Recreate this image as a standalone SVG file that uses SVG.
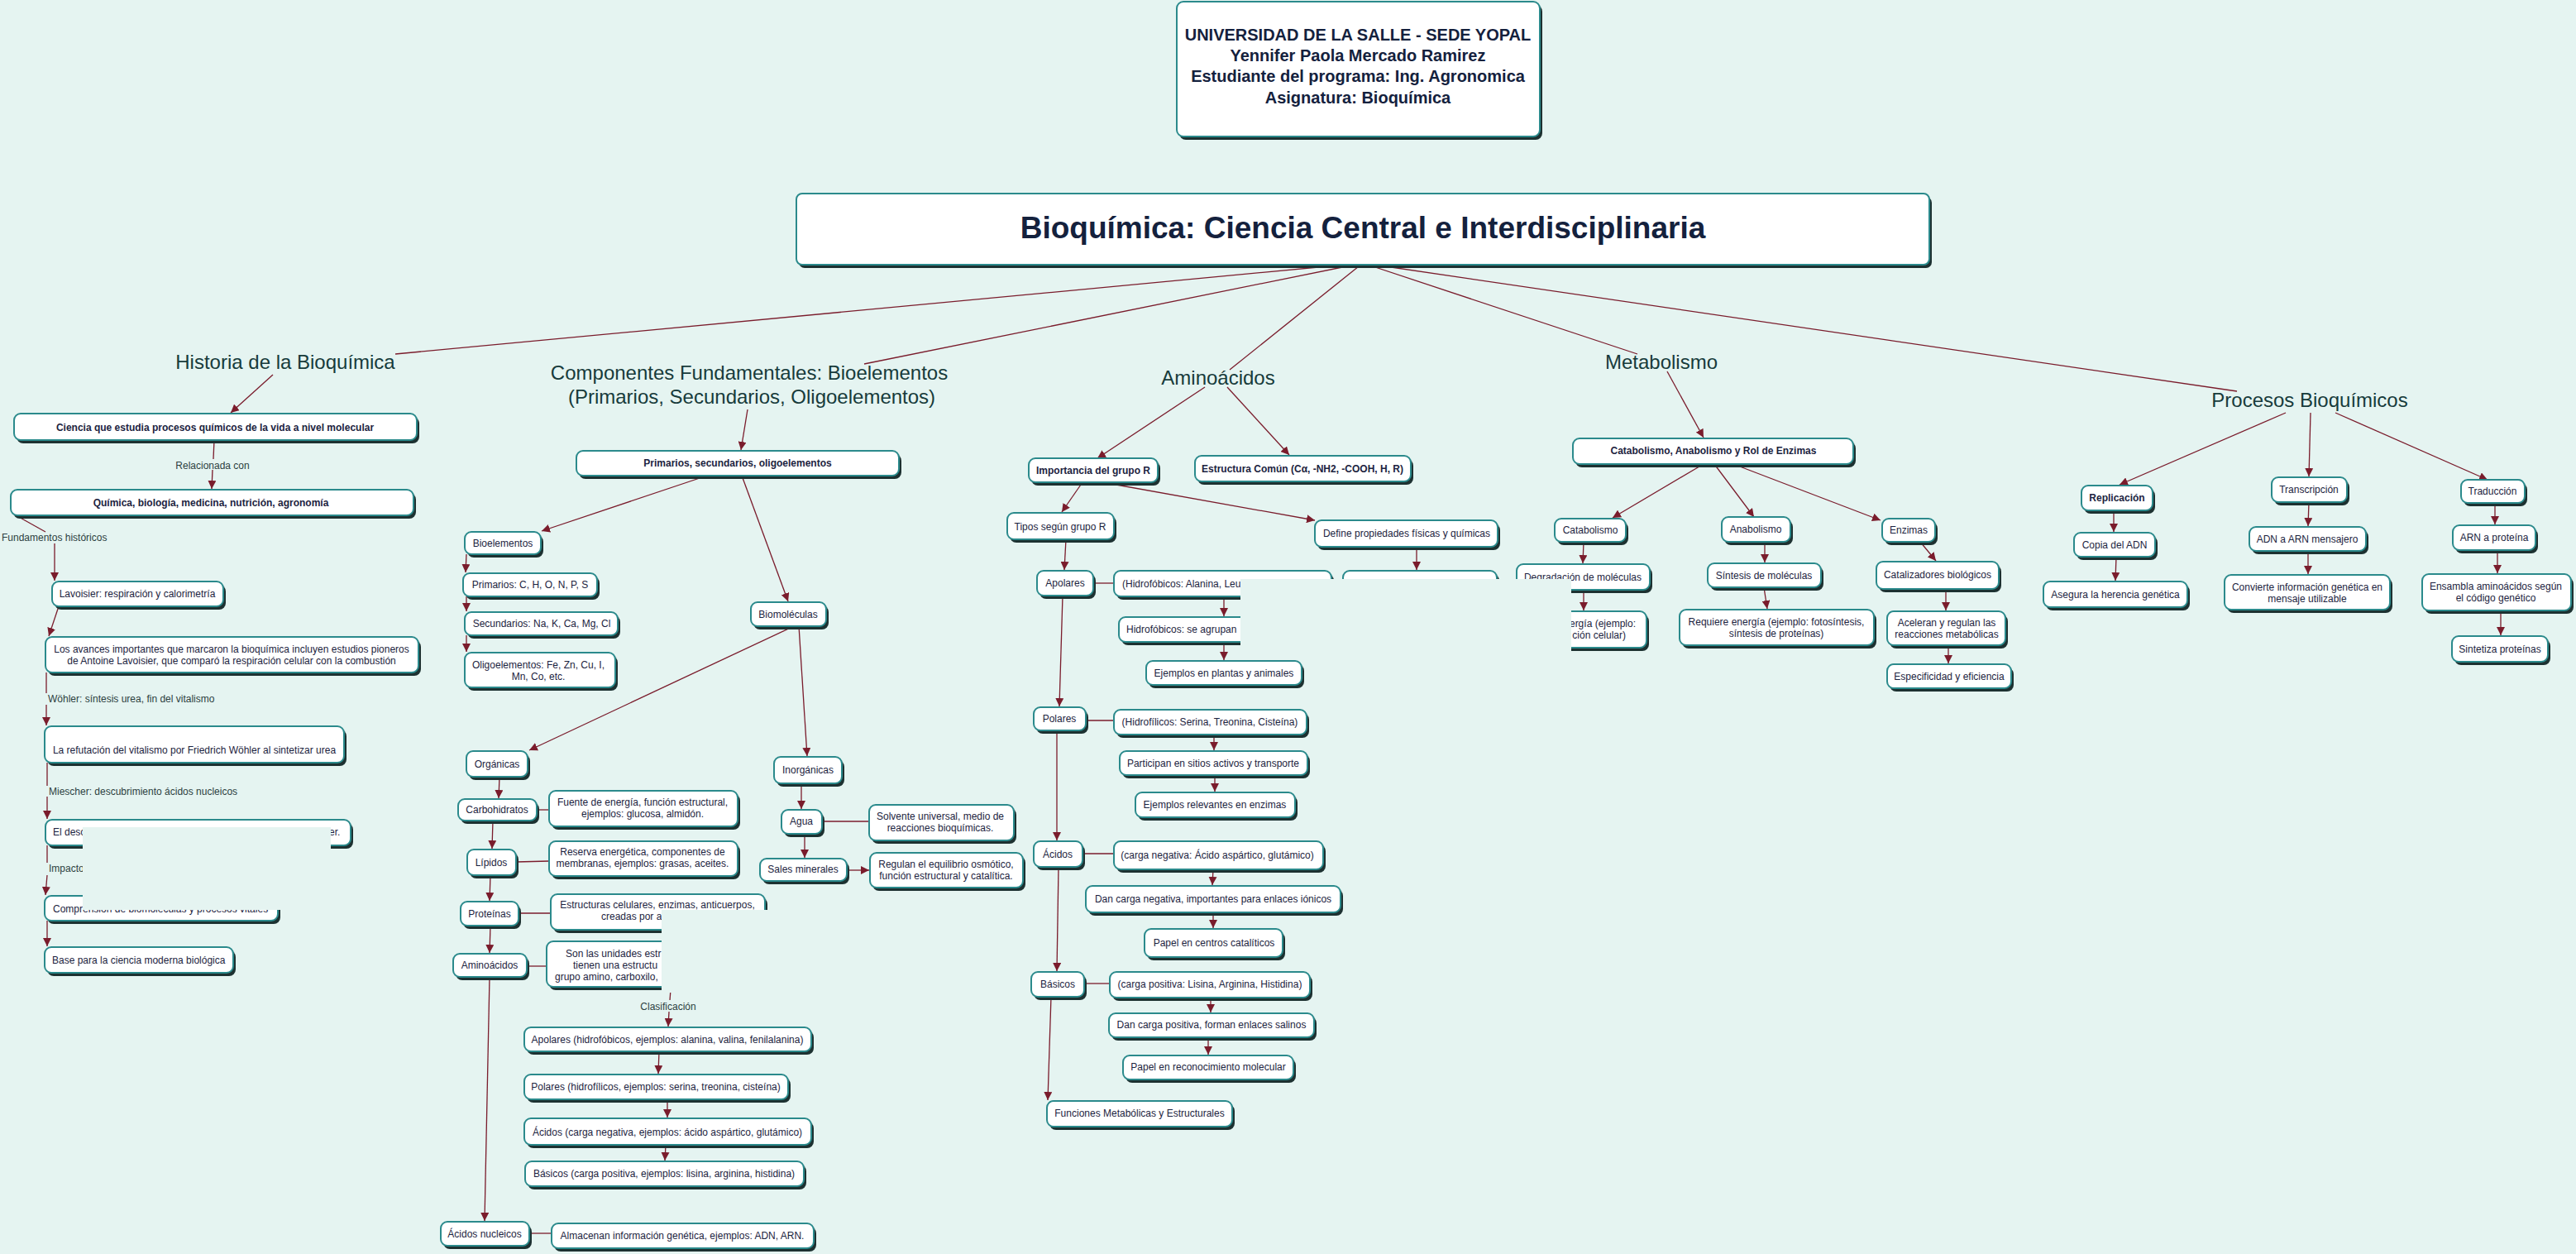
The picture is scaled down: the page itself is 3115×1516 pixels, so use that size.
<svg xmlns="http://www.w3.org/2000/svg" width="3115" height="1516" viewBox="0 0 3115 1516">
<style>
.bg{fill:#e5f4f1}
.sh{fill:#1d3131}
.bx{fill:#fff;stroke:#2b8a8c;stroke-width:2}
.oc{fill:#e5f4f1}
text{font-family:"Liberation Sans",Arial,sans-serif}
.t{font-size:12px;fill:#1c2340;text-anchor:middle}
.s{text-anchor:start}
.e{text-anchor:end}
.b{font-weight:bold}
.hd{font-size:20px;font-weight:bold;fill:#14213d;text-anchor:middle}
.ti{font-size:37px;font-weight:bold;fill:#14213d;text-anchor:middle}
.lb{font-size:24px;fill:#173b3b;text-anchor:middle}
.cl{font-size:12px;fill:#2c4040}
.c{stroke:#7a1c2c;stroke-width:1.3;fill:none}
.a{marker-end:url(#ah)}
</style>
<defs>
<marker id="ah" markerUnits="userSpaceOnUse" viewBox="0 0 10 10" refX="10" refY="5" markerWidth="10" markerHeight="10" orient="auto">
<path d="M0,0 L10,5 L0,10 z" fill="#7a1c2c"/>
</marker>
</defs>
<rect class="bg" x="0" y="0" width="3115" height="1516"/>

<g id="connectors">
<line class="c" x1="1648" y1="318" x2="478" y2="428"/>
<line class="c" x1="1648" y1="318" x2="1045" y2="440"/>
<line class="c" x1="1648" y1="318" x2="1487" y2="447"/>
<line class="c" x1="1648" y1="318" x2="1980" y2="428"/>
<line class="c" x1="1648" y1="318" x2="2705" y2="473"/>
<!-- Historia -->
<line class="c a" x1="330" y1="453" x2="279" y2="499"/>
<line class="c" x1="259" y1="532" x2="258" y2="555"/>
<line class="c a" x1="257" y1="568" x2="256" y2="591"/>
<line class="c" x1="21" y1="624" x2="55" y2="643"/>
<line class="c a" x1="66" y1="657" x2="66" y2="702"/>
<line class="c a" x1="71" y1="733" x2="59" y2="769"/>
<line class="c" x1="56" y1="813" x2="56" y2="838"/>
<line class="c a" x1="56" y1="852" x2="56" y2="877"/>
<line class="c" x1="57" y1="922" x2="57" y2="950"/>
<line class="c a" x1="57" y1="963" x2="57" y2="990"/>
<line class="c" x1="57" y1="1022" x2="57" y2="1043"/>
<line class="c a" x1="57" y1="1058" x2="55" y2="1082"/>
<line class="c a" x1="57" y1="1113" x2="57" y2="1144"/>
<!-- Componentes -->
<line class="c a" x1="904" y1="495" x2="896" y2="544"/>
<line class="c a" x1="855" y1="575" x2="655" y2="642"/>
<line class="c a" x1="897" y1="575" x2="953" y2="727"/>
<line class="c a" x1="564" y1="670" x2="563" y2="692"/>
<line class="c a" x1="564" y1="721" x2="564" y2="739"/>
<line class="c a" x1="564" y1="768" x2="564" y2="788"/>
<line class="c a" x1="960" y1="757" x2="640" y2="907"/>
<line class="c a" x1="966" y1="757" x2="976" y2="914"/>
<line class="c a" x1="604" y1="939" x2="603" y2="965"/>
<line class="c" x1="649" y1="979" x2="664" y2="979"/>
<line class="c a" x1="596" y1="992" x2="595" y2="1026"/>
<line class="c" x1="624" y1="1042" x2="664" y2="1041"/>
<line class="c a" x1="593" y1="1058" x2="592" y2="1089"/>
<line class="c" x1="627" y1="1104" x2="666" y2="1104"/>
<line class="c a" x1="593" y1="1119" x2="592" y2="1152"/>
<line class="c" x1="637" y1="1168" x2="661" y2="1168"/>
<line class="c" x1="811" y1="1196" x2="810" y2="1209"/>
<line class="c a" x1="809" y1="1223" x2="808" y2="1241"/>
<line class="c a" x1="797" y1="1271" x2="796" y2="1298"/>
<line class="c a" x1="807" y1="1329" x2="807" y2="1351"/>
<line class="c a" x1="805" y1="1384" x2="804" y2="1403"/>
<line class="c a" x1="592" y1="1181" x2="586" y2="1476"/>
<line class="c" x1="640" y1="1491" x2="667" y2="1491"/>
<line class="c a" x1="969" y1="947" x2="969" y2="978"/>
<line class="c" x1="994" y1="993" x2="1051" y2="993"/>
<line class="c a" x1="973" y1="1008" x2="973" y2="1037"/>
<line class="c a" x1="1024" y1="1052" x2="1051" y2="1052"/>
<!-- Aminoacidos -->
<line class="c a" x1="1457" y1="468" x2="1327" y2="554"/>
<line class="c a" x1="1484" y1="468" x2="1559" y2="550"/>
<line class="c a" x1="1309" y1="583" x2="1284" y2="619"/>
<line class="c a" x1="1333" y1="583" x2="1590" y2="629"/>
<line class="c a" x1="1713" y1="661" x2="1713" y2="689"/>
<line class="c a" x1="1289" y1="652" x2="1287" y2="689"/>
<line class="c" x1="1322" y1="705" x2="1347" y2="705"/>
<line class="c a" x1="1480" y1="721" x2="1480" y2="745"/>
<line class="c a" x1="1480" y1="776" x2="1480" y2="798"/>
<line class="c a" x1="1285" y1="720" x2="1281" y2="854"/>
<line class="c" x1="1313" y1="871" x2="1347" y2="871"/>
<line class="c a" x1="1468" y1="888" x2="1468" y2="907"/>
<line class="c a" x1="1469" y1="937" x2="1469" y2="957"/>
<line class="c a" x1="1278" y1="883" x2="1278" y2="1016"/>
<line class="c" x1="1309" y1="1032" x2="1347" y2="1032"/>
<line class="c a" x1="1467" y1="1051" x2="1466" y2="1070"/>
<line class="c a" x1="1467" y1="1103" x2="1467" y2="1122"/>
<line class="c a" x1="1280" y1="1048" x2="1278" y2="1174"/>
<line class="c" x1="1311" y1="1189" x2="1342" y2="1189"/>
<line class="c a" x1="1464" y1="1206" x2="1464" y2="1224"/>
<line class="c a" x1="1461" y1="1254" x2="1461" y2="1275"/>
<line class="c a" x1="1271" y1="1205" x2="1267" y2="1330"/>
<!-- Metabolismo -->
<line class="c a" x1="2016" y1="449" x2="2060" y2="529"/>
<line class="c a" x1="2060" y1="561" x2="1950" y2="626"/>
<line class="c a" x1="2073" y1="561" x2="2121" y2="625"/>
<line class="c a" x1="2096" y1="561" x2="2274" y2="629"/>
<line class="c a" x1="1915" y1="655" x2="1914" y2="681"/>
<line class="c a" x1="1915" y1="713" x2="1915" y2="738"/>
<line class="c a" x1="2134" y1="655" x2="2134" y2="680"/>
<line class="c a" x1="2133" y1="710" x2="2137" y2="736"/>
<line class="c a" x1="2322" y1="655" x2="2341" y2="678"/>
<line class="c a" x1="2353" y1="712" x2="2353" y2="738"/>
<line class="c a" x1="2356" y1="780" x2="2356" y2="802"/>
<!-- Procesos -->
<line class="c a" x1="2764" y1="499" x2="2563" y2="586"/>
<line class="c a" x1="2794" y1="499" x2="2792" y2="576"/>
<line class="c a" x1="2824" y1="499" x2="3008" y2="580"/>
<line class="c a" x1="2556" y1="617" x2="2556" y2="643"/>
<line class="c a" x1="2559" y1="673" x2="2558" y2="702"/>
<line class="c a" x1="2792" y1="607" x2="2791" y2="636"/>
<line class="c a" x1="2791" y1="666" x2="2791" y2="694"/>
<line class="c a" x1="3017" y1="608" x2="3017" y2="634"/>
<line class="c a" x1="3020" y1="665" x2="3020" y2="693"/>
<line class="c a" x1="3024" y1="738" x2="3024" y2="768"/>
<!-- connector labels -->
<text class="cl" x="257" y="567" text-anchor="middle">Relacionada con</text>
<text class="cl" x="2" y="654">Fundamentos históricos</text>
<text class="cl" x="58" y="849">Wöhler: síntesis urea, fin del vitalismo</text>
<text class="cl" x="59" y="961">Miescher: descubrimiento ácidos nucleicos</text>
<text class="cl" x="59" y="1054">Impacto</text>
<text class="cl" x="808" y="1221" text-anchor="middle">Clasificación</text>
</g>

<g id="header"><rect class="sh" x="1426" y="6" width="439" height="163" rx="8"/><rect class="bx" x="1423" y="2" width="439" height="163" rx="8"/>
<text class="hd" x="1642" y="49">UNIVERSIDAD DE LA SALLE - SEDE YOPAL</text>
<text class="hd" x="1642" y="74">Yennifer Paola Mercado Ramirez</text>
<text class="hd" x="1642" y="99">Estudiante del programa: Ing. Agronomica</text>
<text class="hd" x="1642" y="125">Asignatura: Bioquímica</text></g>
<g id="title"><rect class="sh" x="966" y="238" width="1370" height="86" rx="7"/><rect class="bx" x="963" y="234" width="1370" height="86" rx="7"/>
<text class="ti" x="1648" y="288">Bioquímica: Ciencia Central e Interdisciplinaria</text></g>

<g id="lbl-historia"><text class="lb" x="345" y="446">Historia de la Bioquímica</text></g>
<g id="lbl-componentes"><text class="lb" x="906" y="459">Componentes Fundamentales: Bioelementos</text><text class="lb" x="909" y="488">(Primarios, Secundarios, Oligoelementos)</text></g>
<g id="lbl-aminoacidos"><text class="lb" x="1473" y="465">Aminoácidos</text></g>
<g id="lbl-metabolismo"><text class="lb" x="2009" y="446">Metabolismo</text></g>
<g id="lbl-procesos"><text class="lb" x="2793" y="492">Procesos Bioquímicos</text></g>

<!-- Historia nodes -->
<g id="h1"><rect class="sh" x="20" y="504" width="487" height="32" rx="8"/><rect class="bx" x="17" y="500" width="487" height="32" rx="8"/><text class="t b" x="260" y="521">Ciencia que estudia procesos químicos de la vida a nivel molecular</text></g>
<g id="h2"><rect class="sh" x="16" y="596" width="487" height="31" rx="8"/><rect class="bx" x="13" y="592" width="487" height="31" rx="8"/><text class="t b" x="255" y="612">Química, biología, medicina, nutrición, agronomía</text></g>
<g id="h3"><rect class="sh" x="66" y="707" width="207" height="30" rx="8"/><rect class="bx" x="63" y="703" width="207" height="30" rx="8"/><text class="t" x="166" y="722">Lavoisier: respiración y calorimetría</text></g>
<g id="h4"><rect class="sh" x="58" y="774" width="451" height="43" rx="8"/><rect class="bx" x="55" y="770" width="451" height="43" rx="8"/><text class="t" x="280" y="789">Los avances importantes que marcaron la bioquímica incluyen estudios pioneros</text><text class="t" x="280" y="803">de Antoine Lavoisier, que comparó la respiración celular con la combustión</text></g>
<g id="h5"><rect class="sh" x="57" y="882" width="362" height="44" rx="8"/><rect class="bx" x="54" y="878" width="362" height="44" rx="8"/><text class="t" x="235" y="911">La refutación del vitalismo por Friedrich Wöhler al sintetizar urea</text></g>
<g id="h6"><rect class="sh" x="58" y="995" width="369" height="31" rx="8"/><rect class="bx" x="55" y="991" width="369" height="31" rx="8"/><text class="t s" x="64" y="1010">El desc</text><text class="t s" x="398" y="1010">er.</text></g>
<g id="h7"><rect class="sh" x="57" y="1087" width="282" height="30" rx="8"/><rect class="bx" x="54" y="1083" width="282" height="30" rx="8"/><text class="t s" x="64" y="1103">Comprensión de biomoléculas y procesos vitales</text></g>
<g id="h8"><rect class="sh" x="57" y="1149" width="228" height="31" rx="8"/><rect class="bx" x="54" y="1145" width="228" height="31" rx="8"/><text class="t s" x="63" y="1165">Base para la ciencia moderna biológica</text></g>

<!-- Componentes nodes -->
<g id="c1"><rect class="sh" x="700" y="549" width="390" height="30" rx="8"/><rect class="bx" x="697" y="545" width="390" height="30" rx="8"/><text class="t b" x="892" y="564">Primarios, secundarios, oligoelementos</text></g>
<g id="c2"><rect class="sh" x="565" y="647" width="92" height="27" rx="8"/><rect class="bx" x="562" y="643" width="92" height="27" rx="8"/><text class="t" x="608" y="661">Bioelementos</text></g>
<g id="c3"><rect class="sh" x="563" y="697" width="162" height="28" rx="8"/><rect class="bx" x="560" y="693" width="162" height="28" rx="8"/><text class="t" x="641" y="711">Primarios: C, H, O, N, P, S</text></g>
<g id="c4"><rect class="sh" x="565" y="744" width="185" height="28" rx="8"/><rect class="bx" x="562" y="740" width="185" height="28" rx="8"/><text class="t" x="655" y="758">Secundarios: Na, K, Ca, Mg, Cl</text></g>
<g id="c5"><rect class="sh" x="565" y="793" width="182" height="42" rx="8"/><rect class="bx" x="562" y="789" width="182" height="42" rx="8"/><text class="t" x="651" y="808">Oligoelementos: Fe, Zn, Cu, I,</text><text class="t" x="651" y="822">Mn, Co, etc.</text></g>
<g id="c6"><rect class="sh" x="911" y="732" width="91" height="29" rx="8"/><rect class="bx" x="908" y="728" width="91" height="29" rx="8"/><text class="t" x="953" y="747">Biomoléculas</text></g>
<g id="c7"><rect class="sh" x="567" y="912" width="74" height="31" rx="8"/><rect class="bx" x="564" y="908" width="74" height="31" rx="8"/><text class="t" x="601" y="928">Orgánicas</text></g>
<g id="c8"><rect class="sh" x="557" y="970" width="95" height="26" rx="8"/><rect class="bx" x="554" y="966" width="95" height="26" rx="8"/><text class="t" x="601" y="983">Carbohidratos</text></g>
<g id="c9"><rect class="sh" x="667" y="960" width="228" height="43" rx="8"/><rect class="bx" x="664" y="956" width="228" height="43" rx="8"/><text class="t" x="777" y="974">Fuente de energía, función estructural,</text><text class="t" x="777" y="988">ejemplos: glucosa, almidón.</text></g>
<g id="c10"><rect class="sh" x="568" y="1031" width="59" height="31" rx="8"/><rect class="bx" x="565" y="1027" width="59" height="31" rx="8"/><text class="t" x="594" y="1047">Lípidos</text></g>
<g id="c11"><rect class="sh" x="667" y="1021" width="228" height="42" rx="8"/><rect class="bx" x="664" y="1017" width="228" height="42" rx="8"/><text class="t" x="777" y="1034">Reserva energética, componentes de</text><text class="t" x="777" y="1048">membranas, ejemplos: grasas, aceites.</text></g>
<g id="c12"><rect class="sh" x="560" y="1094" width="70" height="29" rx="8"/><rect class="bx" x="557" y="1090" width="70" height="29" rx="8"/><text class="t" x="592" y="1109">Proteínas</text></g>
<g id="c13"><rect class="sh" x="669" y="1085" width="259" height="43" rx="8"/><rect class="bx" x="666" y="1081" width="259" height="43" rx="8"/><text class="t" x="795" y="1098">Estructuras celulares, enzimas, anticuerpos,</text><text class="t s" x="727" y="1112">creadas por a</text></g>
<g id="c14"><rect class="sh" x="551" y="1157" width="89" height="28" rx="8"/><rect class="bx" x="548" y="1153" width="89" height="28" rx="8"/><text class="t" x="592" y="1171">Aminoácidos</text></g>
<g id="c15"><rect class="sh" x="664" y="1142" width="260" height="55" rx="8"/><rect class="bx" x="661" y="1138" width="260" height="55" rx="8"/><text class="t s" x="684" y="1157">Son las unidades estr</text><text class="t s" x="693" y="1171">tienen una estructu</text><text class="t s" x="671" y="1185">grupo amino, carboxilo,</text></g>
<g id="c16"><rect class="sh" x="637" y="1246" width="347" height="29" rx="8"/><rect class="bx" x="634" y="1242" width="347" height="29" rx="8"/><text class="t" x="807" y="1261">Apolares (hidrofóbicos, ejemplos: alanina, valina, fenilalanina)</text></g>
<g id="c17"><rect class="sh" x="637" y="1303" width="319" height="30" rx="8"/><rect class="bx" x="634" y="1299" width="319" height="30" rx="8"/><text class="t" x="793" y="1318">Polares (hidrofílicos, ejemplos: serina, treonina, cisteína)</text></g>
<g id="c18"><rect class="sh" x="637" y="1356" width="347" height="32" rx="8"/><rect class="bx" x="634" y="1352" width="347" height="32" rx="8"/><text class="t" x="807" y="1373">Ácidos (carga negativa, ejemplos: ácido aspártico, glutámico)</text></g>
<g id="c19"><rect class="sh" x="638" y="1408" width="337" height="30" rx="8"/><rect class="bx" x="635" y="1404" width="337" height="30" rx="8"/><text class="t" x="803" y="1423">Básicos (carga positiva, ejemplos: lisina, arginina, histidina)</text></g>
<g id="c20"><rect class="sh" x="536" y="1481" width="107" height="29" rx="8"/><rect class="bx" x="533" y="1477" width="107" height="29" rx="8"/><text class="t" x="586" y="1496">Ácidos nucleicos</text></g>
<g id="c21"><rect class="sh" x="670" y="1483" width="317" height="30" rx="8"/><rect class="bx" x="667" y="1479" width="317" height="30" rx="8"/><text class="t" x="825" y="1498">Almacenan información genética, ejemplos: ADN, ARN.</text></g>
<g id="c22"><rect class="sh" x="939" y="919" width="82" height="32" rx="8"/><rect class="bx" x="936" y="915" width="82" height="32" rx="8"/><text class="t" x="977" y="935">Inorgánicas</text></g>
<g id="c23"><rect class="sh" x="948" y="983" width="49" height="29" rx="8"/><rect class="bx" x="945" y="979" width="49" height="29" rx="8"/><text class="t" x="969" y="997">Agua</text></g>
<g id="c24"><rect class="sh" x="922" y="1042" width="105" height="27" rx="8"/><rect class="bx" x="919" y="1038" width="105" height="27" rx="8"/><text class="t" x="971" y="1055">Sales minerales</text></g>
<g id="c25"><rect class="sh" x="1054" y="977" width="175" height="43" rx="8"/><rect class="bx" x="1051" y="973" width="175" height="43" rx="8"/><text class="t" x="1137" y="991">Solvente universal, medio de</text><text class="t" x="1137" y="1005">reacciones bioquímicas.</text></g>
<g id="c26"><rect class="sh" x="1055" y="1035" width="185" height="42" rx="8"/><rect class="bx" x="1052" y="1031" width="185" height="42" rx="8"/><text class="t" x="1144" y="1049">Regulan el equilibrio osmótico,</text><text class="t" x="1144" y="1063">función estructural y catalítica.</text></g>

<!-- Aminoacidos nodes -->
<g id="a1"><rect class="sh" x="1247" y="558" width="156" height="29" rx="8"/><rect class="bx" x="1244" y="554" width="156" height="29" rx="8"/><text class="t b" x="1322" y="573">Importancia del grupo R</text></g>
<g id="a2"><rect class="sh" x="1448" y="555" width="261" height="31" rx="8"/><rect class="bx" x="1445" y="551" width="261" height="31" rx="8"/><text class="t b" x="1575" y="571">Estructura Común (Cα, -NH2, -COOH, H, R)</text></g>
<g id="a3"><rect class="sh" x="1221" y="624" width="129" height="32" rx="8"/><rect class="bx" x="1218" y="620" width="129" height="32" rx="8"/><text class="t" x="1282" y="641">Tipos según grupo R</text></g>
<g id="a4"><rect class="sh" x="1593" y="633" width="221" height="32" rx="8"/><rect class="bx" x="1590" y="629" width="221" height="32" rx="8"/><text class="t" x="1701" y="649">Define propiedades físicas y químicas</text></g>
<g id="a5"><rect class="sh" x="1627" y="694" width="186" height="31" rx="8"/><rect class="bx" x="1624" y="690" width="186" height="31" rx="8"/></g>
<g id="a6"><rect class="sh" x="1257" y="694" width="68" height="30" rx="8"/><rect class="bx" x="1254" y="690" width="68" height="30" rx="8"/><text class="t" x="1288" y="709">Apolares</text></g>
<g id="a7"><rect class="sh" x="1350" y="694" width="263" height="31" rx="8"/><rect class="bx" x="1347" y="690" width="263" height="31" rx="8"/><text class="t s" x="1357" y="710">(Hidrofóbicos: Alanina, Leu</text></g>
<g id="a8"><rect class="sh" x="1356" y="750" width="237" height="30" rx="8"/><rect class="bx" x="1353" y="746" width="237" height="30" rx="8"/><text class="t s" x="1362" y="765">Hidrofóbicos: se agrupan</text></g>
<g id="a9"><rect class="sh" x="1389" y="803" width="188" height="29" rx="8"/><rect class="bx" x="1386" y="799" width="188" height="29" rx="8"/><text class="t" x="1480" y="818">Ejemplos en plantas y animales</text></g>
<g id="a10"><rect class="sh" x="1253" y="859" width="63" height="28" rx="8"/><rect class="bx" x="1250" y="855" width="63" height="28" rx="8"/><text class="t" x="1281" y="873">Polares</text></g>
<g id="a11"><rect class="sh" x="1350" y="862" width="233" height="30" rx="8"/><rect class="bx" x="1347" y="858" width="233" height="30" rx="8"/><text class="t" x="1463" y="877">(Hidrofílicos: Serina, Treonina, Cisteína)</text></g>
<g id="a12"><rect class="sh" x="1357" y="912" width="227" height="29" rx="8"/><rect class="bx" x="1354" y="908" width="227" height="29" rx="8"/><text class="t" x="1467" y="927">Participan en sitios activos y transporte</text></g>
<g id="a13"><rect class="sh" x="1376" y="962" width="193" height="30" rx="8"/><rect class="bx" x="1373" y="958" width="193" height="30" rx="8"/><text class="t" x="1469" y="977">Ejemplos relevantes en enzimas</text></g>
<g id="a14"><rect class="sh" x="1253" y="1021" width="59" height="31" rx="8"/><rect class="bx" x="1250" y="1017" width="59" height="31" rx="8"/><text class="t" x="1279" y="1037">Ácidos</text></g>
<g id="a15"><rect class="sh" x="1350" y="1021" width="253" height="34" rx="8"/><rect class="bx" x="1347" y="1017" width="253" height="34" rx="8"/><text class="t" x="1472" y="1038">(carga negativa: Ácido aspártico, glutámico)</text></g>
<g id="a16"><rect class="sh" x="1316" y="1075" width="308" height="32" rx="8"/><rect class="bx" x="1313" y="1071" width="308" height="32" rx="8"/><text class="t" x="1467" y="1091">Dan carga negativa, importantes para enlaces iónicos</text></g>
<g id="a17"><rect class="sh" x="1387" y="1127" width="167" height="34" rx="8"/><rect class="bx" x="1384" y="1123" width="167" height="34" rx="8"/><text class="t" x="1468" y="1144">Papel en centros catalíticos</text></g>
<g id="a18"><rect class="sh" x="1250" y="1179" width="64" height="30" rx="8"/><rect class="bx" x="1247" y="1175" width="64" height="30" rx="8"/><text class="t" x="1279" y="1194">Básicos</text></g>
<g id="a19"><rect class="sh" x="1345" y="1179" width="242" height="31" rx="8"/><rect class="bx" x="1342" y="1175" width="242" height="31" rx="8"/><text class="t" x="1463" y="1194">(carga positiva: Lisina, Arginina, Histidina)</text></g>
<g id="a20"><rect class="sh" x="1344" y="1229" width="248" height="29" rx="8"/><rect class="bx" x="1341" y="1225" width="248" height="29" rx="8"/><text class="t" x="1465" y="1243">Dan carga positiva, forman enlaces salinos</text></g>
<g id="a21"><rect class="sh" x="1361" y="1280" width="206" height="29" rx="8"/><rect class="bx" x="1358" y="1276" width="206" height="29" rx="8"/><text class="t" x="1461" y="1294">Papel en reconocimiento molecular</text></g>
<g id="a22"><rect class="sh" x="1269" y="1335" width="224" height="31" rx="8"/><rect class="bx" x="1266" y="1331" width="224" height="31" rx="8"/><text class="t" x="1378" y="1350">Funciones Metabólicas y Estructurales</text></g>

<!-- Metabolismo nodes -->
<g id="m1"><rect class="sh" x="1905" y="534" width="339" height="31" rx="8"/><rect class="bx" x="1902" y="530" width="339" height="31" rx="8"/><text class="t b" x="2072" y="549">Catabolismo, Anabolismo y Rol de Enzimas</text></g>
<g id="m2"><rect class="sh" x="1883" y="631" width="86" height="28" rx="8"/><rect class="bx" x="1880" y="627" width="86" height="28" rx="8"/><text class="t" x="1923" y="645">Catabolismo</text></g>
<g id="m3"><rect class="sh" x="1837" y="686" width="161" height="31" rx="8"/><rect class="bx" x="1834" y="682" width="161" height="31" rx="8"/><text class="t" x="1914" y="702">Degradación de moléculas</text></g>
<g id="m4"><rect class="sh" x="1848" y="743" width="146" height="44" rx="8"/><rect class="bx" x="1845" y="739" width="146" height="44" rx="8"/><text class="t e" x="1978" y="758">ergía (ejemplo:</text><text class="t e" x="1966" y="772">ción celular)</text></g>
<g id="m5"><rect class="sh" x="2085" y="629" width="83" height="30" rx="8"/><rect class="bx" x="2082" y="625" width="83" height="30" rx="8"/><text class="t" x="2123" y="644">Anabolismo</text></g>
<g id="m6"><rect class="sh" x="2068" y="685" width="137" height="29" rx="8"/><rect class="bx" x="2065" y="681" width="137" height="29" rx="8"/><text class="t" x="2133" y="700">Síntesis de moléculas</text></g>
<g id="m7"><rect class="sh" x="2034" y="741" width="235" height="43" rx="8"/><rect class="bx" x="2031" y="737" width="235" height="43" rx="8"/><text class="t" x="2148" y="756">Requiere energía (ejemplo: fotosíntesis,</text><text class="t" x="2148" y="770">síntesis de proteínas)</text></g>
<g id="m8"><rect class="sh" x="2279" y="631" width="64" height="28" rx="8"/><rect class="bx" x="2276" y="627" width="64" height="28" rx="8"/><text class="t" x="2308" y="645">Enzimas</text></g>
<g id="m9"><rect class="sh" x="2272" y="683" width="148" height="33" rx="8"/><rect class="bx" x="2269" y="679" width="148" height="33" rx="8"/><text class="t" x="2343" y="699">Catalizadores biológicos</text></g>
<g id="m10"><rect class="sh" x="2285" y="743" width="143" height="41" rx="8"/><rect class="bx" x="2282" y="739" width="143" height="41" rx="8"/><text class="t" x="2354" y="757">Aceleran y regulan las</text><text class="t" x="2354" y="771">reacciones metabólicas</text></g>
<g id="m11"><rect class="sh" x="2285" y="807" width="150" height="29" rx="8"/><rect class="bx" x="2282" y="803" width="150" height="29" rx="8"/><text class="t" x="2357" y="822">Especificidad y eficiencia</text></g>

<!-- Procesos nodes -->
<g id="p1"><rect class="sh" x="2520" y="591" width="86" height="30" rx="8"/><rect class="bx" x="2517" y="587" width="86" height="30" rx="8"/><text class="t b" x="2560" y="606">Replicación</text></g>
<g id="p2"><rect class="sh" x="2511" y="648" width="98" height="29" rx="8"/><rect class="bx" x="2508" y="644" width="98" height="29" rx="8"/><text class="t" x="2557" y="663">Copia del ADN</text></g>
<g id="p3"><rect class="sh" x="2474" y="707" width="174" height="31" rx="8"/><rect class="bx" x="2471" y="703" width="174" height="31" rx="8"/><text class="t" x="2558" y="723">Asegura la herencia genética</text></g>
<g id="p4"><rect class="sh" x="2750" y="581" width="91" height="30" rx="8"/><rect class="bx" x="2747" y="577" width="91" height="30" rx="8"/><text class="t" x="2792" y="596">Transcripción</text></g>
<g id="p5"><rect class="sh" x="2723" y="641" width="141" height="29" rx="8"/><rect class="bx" x="2720" y="637" width="141" height="29" rx="8"/><text class="t" x="2790" y="656">ADN a ARN mensajero</text></g>
<g id="p6"><rect class="sh" x="2693" y="699" width="200" height="42" rx="8"/><rect class="bx" x="2690" y="695" width="200" height="42" rx="8"/><text class="t" x="2790" y="714">Convierte información genética en</text><text class="t" x="2790" y="728">mensaje utilizable</text></g>
<g id="p7"><rect class="sh" x="2979" y="584" width="77" height="28" rx="8"/><rect class="bx" x="2976" y="580" width="77" height="28" rx="8"/><text class="t" x="3014" y="598">Traducción</text></g>
<g id="p8"><rect class="sh" x="2969" y="639" width="100" height="30" rx="8"/><rect class="bx" x="2966" y="635" width="100" height="30" rx="8"/><text class="t" x="3016" y="654">ARN a proteína</text></g>
<g id="p9"><rect class="sh" x="2932" y="698" width="180" height="44" rx="8"/><rect class="bx" x="2929" y="694" width="180" height="44" rx="8"/><text class="t" x="3018" y="713">Ensambla aminoácidos según</text><text class="t" x="3018" y="727">el código genético</text></g>
<g id="p10"><rect class="sh" x="2968" y="773" width="116" height="31" rx="8"/><rect class="bx" x="2965" y="769" width="116" height="31" rx="8"/><text class="t" x="3023" y="789">Sintetiza proteínas</text></g>

<!-- background-coloured patches that hide parts of the picture -->
<rect class="oc" x="100" y="1000" width="300" height="100"/>
<rect class="oc" x="800" y="1100" width="132" height="100"/>
<rect class="oc" x="1500" y="700" width="400" height="96"/>
</svg>
